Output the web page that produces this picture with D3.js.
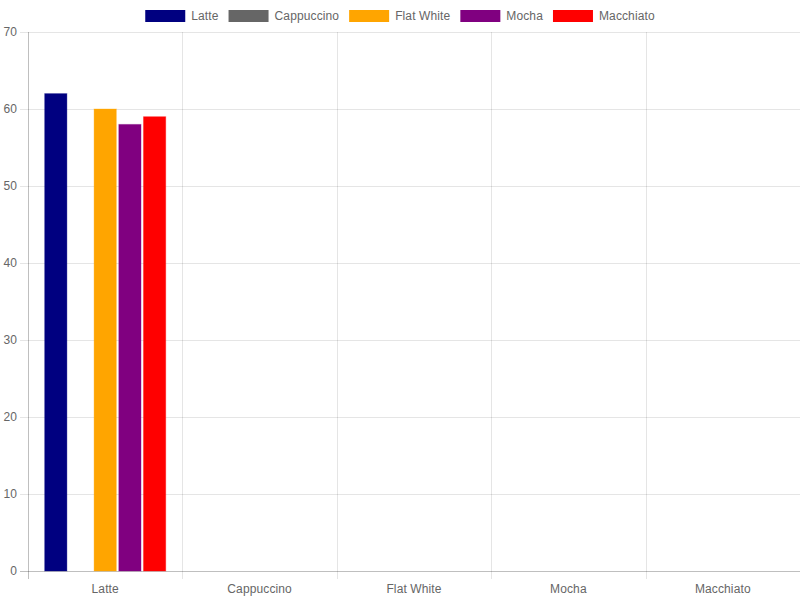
<!DOCTYPE html>
<html><head><meta charset="utf-8">
<script src="https://cdn.jsdelivr.net/npm/d3@7"></script>
<style>html,body{margin:0;padding:0;background:#fff;}svg{display:block;} text{letter-spacing:0.12px;}</style>
</head><body>
<svg id="c" width="800" height="600"></svg>
<script>
const categories = ["Latte", "Cappuccino", "Flat White", "Mocha", "Macchiato"];
const seriesNames = ["Latte", "Cappuccino", "Flat White", "Mocha", "Macchiato"];
const seriesColors = ["#000080", "#666666", "#FFA500", "#800080", "#FF0000"];
// values per series, by category (only the first category has data)
const latteValues = [62, null, null, null, null];
const cappuccinoValues = [null, null, null, null, null];
const flatWhiteValues = [60, null, null, null, null];
const mochaValues = [58, null, null, null, null];
const macchiatoValues = [59, null, null, null, null];
const yTicks = [0, 10, 20, 30, 40, 50, 60, 70];

(function () {
const seriesValues = [latteValues, cappuccinoValues, flatWhiteValues, mochaValues, macchiatoValues];
const font = "'Helvetica Neue', Helvetica, Arial, 'Liberation Sans', sans-serif";
const svg = d3.select("#c");
const pLeft = 28, pRight = 800, pTop = 32, pBottom = 571;

const x = d3.scaleBand().domain(categories).range([pLeft, pRight]).paddingInner(0).paddingOuter(0);
const y = d3.scaleLinear().domain([0, 70]).range([pBottom, pTop]);
const inner = d3.scaleBand().domain(seriesNames)
  .range([x.bandwidth() * 0.1, x.bandwidth() * 0.9]).paddingInner(0).paddingOuter(0);

// horizontal grid
svg.append("g").selectAll("line").data(yTicks).join("line")
  .attr("x1", pLeft - 8).attr("x2", pRight)
  .attr("y1", d => Math.round(y(d)) + 0.5).attr("y2", d => Math.round(y(d)) + 0.5)
  .attr("stroke", d => d === 0 ? "rgba(0,0,0,0.25)" : "rgba(0,0,0,0.1)").attr("stroke-width", 1);
// vertical grid
const vx = categories.map(c => x(c)).concat([pRight]);
svg.append("g").selectAll("line").data(vx).join("line")
  .attr("x1", d => Math.round(d) + 0.5).attr("x2", d => Math.round(d) + 0.5)
  .attr("y1", pTop).attr("y2", pBottom + 8)
  .attr("stroke", (d, i) => i === 0 ? "rgba(0,0,0,0.25)" : "rgba(0,0,0,0.1)").attr("stroke-width", 1);

// y labels
svg.append("g").selectAll("text").data(yTicks).join("text")
  .attr("x", 17).attr("y", d => y(d)).attr("dy", "0.35em")
  .attr("text-anchor", "end").attr("font-family", font).attr("font-size", 12).attr("fill", "#666")
  .text(d => d);
// x labels
svg.append("g").selectAll("text").data(categories).join("text")
  .attr("x", d => x(d) + x.bandwidth() / 2).attr("y", 589).attr("dy", "0.35em")
  .attr("text-anchor", "middle").attr("font-family", font).attr("font-size", 12).attr("fill", "#666")
  .text(d => d);

// bars
const barW = inner.bandwidth() * 0.9;
seriesNames.forEach((s, si) => {
  const data = categories.map((c, ci) => ({c, v: seriesValues[si][ci]})).filter(d => d.v != null);
  svg.append("g").selectAll("rect").data(data).join("rect")
    .attr("x", d => x(d.c) + inner(s) + (inner.bandwidth() - barW) / 2)
    .attr("width", barW)
    .attr("y", d => y(d.v))
    .attr("height", d => y(0) - y(d.v))
    .attr("fill", seriesColors[si])
    .attr("stroke", seriesColors[si]).attr("stroke-opacity", 0.35).attr("stroke-width", 1);
});

// legend
const lg = svg.append("g");
const items = seriesNames.map((s, i) => {
  const t = lg.append("text").attr("font-family", font).attr("font-size", 12).attr("fill", "#666")
    .attr("y", 16).attr("dy", "0.35em").text(s);
  const w = t.node().getComputedTextLength();
  return {s, i, t, w: 40 + 6 + w};
});
const total = d3.sum(items, d => d.w) + 10 * (items.length - 1);
let cx = (800 - total) / 2;
items.forEach(it => {
  lg.append("rect").attr("x", cx).attr("y", 10).attr("width", 40).attr("height", 12)
    .attr("fill", seriesColors[it.i]);
  it.t.attr("x", cx + 46);
  cx += it.w + 10;
});
})();
</script>
</body></html>
